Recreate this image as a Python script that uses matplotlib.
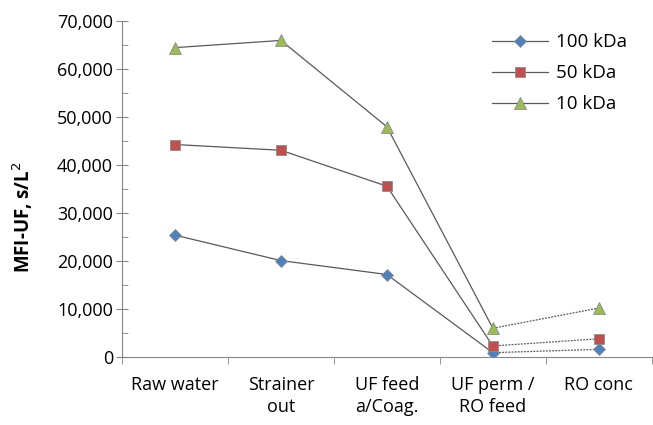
import numpy as np
import matplotlib.pyplot as plt

plt.rcParams['font.family'] = ['Open Sans', 'DejaVu Sans']

categories = ['Raw water', 'Strainer\nout', 'UF feed\na/Coag.', 'UF perm /\nRO feed', 'RO conc']
series_names = ['100 kDa', '50 kDa', '10 kDa']
kda100 = [25400, 20100, 17200, 900, 1600]
kda50 = [44300, 43100, 35600, 2300, 3800]
kda10 = [64500, 66000, 48000, 6000, 10200]

markers = ['D', 's', '^']
colors = ['#4F81BD', '#C0504D', '#9BBB59']
sizes = [6, 6.5, 8]

fig = plt.figure(figsize=(6.53, 4.25), dpi=100)
ax = fig.add_axes([0.187, 0.16, 0.811, 0.79])

x = np.arange(len(categories))
for vals, name, m, c, s in zip([kda100, kda50, kda10], series_names, markers, colors, sizes):
    ax.plot(x[:4], vals[:4], color='#595959', lw=0.9, zorder=2)
    ax.plot(x[3:], vals[3:], color='#595959', lw=0.9, ls=(0, (1.5, 1)), zorder=2)
    ax.plot(x, vals, ls='none', marker=m, ms=s, mfc=c, mec='#8c8c8c', mew=0.6, zorder=3)
    ax.plot([], [], color='#595959', lw=0.9, marker=m, ms=s, mfc=c, mec='#8c8c8c', mew=0.6, label=name)

ax.set_xlim(-0.5, 4.5)
ax.set_ylim(0, 70000)
ax.set_yticks(np.arange(0, 70001, 10000))
ax.set_yticks(np.arange(5000, 70000, 10000), minor=True)
ax.set_yticklabels([f'{v:,}' for v in range(0, 70001, 10000)])
ax.set_xticks(x)
ax.set_xticklabels(categories, linespacing=1.25)
ax.set_xticks(np.arange(-0.5, 4.6, 1), minor=True)
ax.tick_params(axis='x', which='major', length=0, pad=14, labelsize=13)
ax.tick_params(axis='x', which='minor', length=5, color='#868686')
ax.tick_params(axis='y', which='major', direction='inout', length=9, color='#868686', labelsize=13, pad=2)
ax.tick_params(axis='y', which='minor', direction='in', length=4, color='#868686')
ax.set_ylabel('MFI-UF, s/L$^2$', fontsize=13.5, fontweight='bold')
ax.yaxis.set_label_coords(-0.165, 0.417)

for sp in ['top', 'right']:
    ax.spines[sp].set_visible(False)
for sp in ['left', 'bottom']:
    ax.spines[sp].set_color('#868686')

ax.legend(loc='upper right', bbox_to_anchor=(0.985, 1.015), frameon=False, fontsize=13.5,
          handlelength=3.0, labelspacing=0.7, handletextpad=0.4)

fig.savefig('out.png', dpi=100)
